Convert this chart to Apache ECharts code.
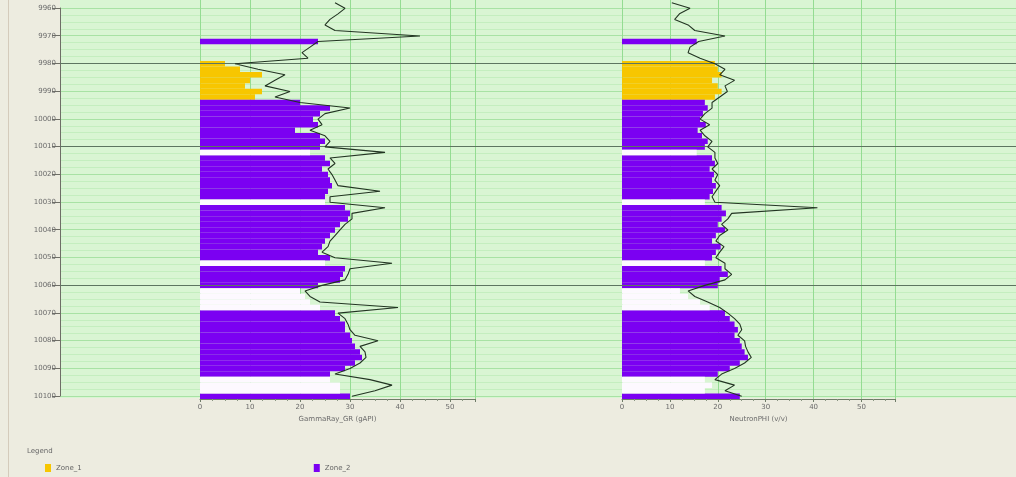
<!DOCTYPE html>
<html>
<head>
<meta charset="utf-8">
<script src="https://cdn.jsdelivr.net/npm/echarts@6/dist/echarts.min.js"></script>
<style>
  html, body { margin: 0; padding: 0; background: #edece0; }
  #chart { width: 1016px; height: 477px; }
</style>
</head>
<body>
<div id="chart"></div>
<script>
// Sample depths (2 ft spacing), top to bottom
const depths = [9958, 9960, 9962, 9964, 9966, 9968, 9970, 9972, 9974, 9976,
  9978, 9980, 9982, 9984, 9986, 9988, 9990, 9992, 9994, 9996,
  9998, 10000, 10002, 10004, 10006, 10008, 10010, 10012, 10014, 10016,
  10018, 10020, 10022, 10024, 10026, 10028, 10030, 10032, 10034, 10036,
  10038, 10040, 10042, 10044, 10046, 10048, 10050, 10052, 10054, 10056,
  10058, 10060, 10062, 10064, 10066, 10068, 10070, 10072, 10074, 10076,
  10078, 10080, 10082, 10084, 10086, 10088, 10090, 10092, 10094, 10096,
  10098, 10100];

// Zone code per sample: 0 = none, 1 = Zone_1, 2 = Zone_2, 3 = unassigned (white)
const zones = [0, 0, 0, 0, 0, 0, 0, 2, 0, 0, 0,
  1, 1, 1, 1, 1, 1, 1,
  2, 2, 2, 2, 2, 2, 2, 2, 2,
  3,
  2, 2, 2, 2, 2, 2, 2, 2,
  3,
  2, 2, 2, 2, 2, 2, 2, 2, 2, 2,
  3,
  2, 2, 2, 2,
  3, 3, 3, 3,
  2, 2, 2, 2, 2, 2, 2, 2, 2, 2, 2, 2,
  3, 3, 3,
  2];

// Track 1: filled value and log curve
const grFill = [null, null, null, null, null, null, null, 23.6, null, null, null,
  5, 8, 12.4, 10, 9, 12.4, 11,
  20, 26, 24, 22.6, 23.6, 19, 24, 25, 24,
  22,
  25, 26, 24.4, 25.6, 26, 26.4, 25.6, 25,
  25,
  29, 30, 29.6, 28, 27, 26, 25, 24.4, 23.6, 26,
  25,
  29, 28.6, 28, 23.6,
  20, 21, 22, 24,
  27, 28, 29, 29, 30, 30.4, 31, 32, 32.4, 31, 29, 26,
  26, 28, 28,
  30];
const grCurve = [27, 29, 27.6, 26, 25, 27, 44, 23.6, 22, 20.4, 21.6,
  7, 11.6, 17, 15, 13, 18, 15,
  20, 30, 25, 23.6, 24.4, 22, 25, 26, 25,
  37,
  26, 27, 25.6, 26.4, 27, 27.6, 36, 26,
  26,
  37, 30.4, 30.4, 29, 28, 27, 26, 25.6, 24.4, 27,
  38.4,
  30, 29.6, 29, 24.4,
  21, 22, 24, 39.6,
  27.6, 29, 29.6, 30, 31, 35.6, 32, 33, 33.2, 32, 30, 27,
  34, 38.4, 35,
  30.4];

// Track 2: filled value and log curve
const npFill = [null, null, null, null, null, null, null, 15.6, null, null, null,
  19.4, 20, 20.8, 18.8, 20, 20.8, 19.4,
  17.3, 17.9, 16.9, 16.3, 17.5, 15.8, 16.7, 17.9, 17.3,
  15.6,
  18.8, 19.4, 18.3, 19.2, 18.8, 19.6, 19, 18.3,
  17.3,
  20.8, 21.7, 20.8, 20, 21.5, 19.6, 18.8, 20.6, 19.6, 18.8,
  17.3,
  20.8, 22.1, 20.4, 20,
  12.1, 13.8, 16.3, 18.3,
  21.5, 22.5, 23.5, 24.2, 23.5, 24.6, 25, 25.6, 26.3, 24.6, 22.5, 20,
  17.3, 18.8, 17.3,
  24.6];
const npCurve = [10.4, 14.2, 12, 11, 13.8, 15.2, 21.5, 16, 14.2, 13.8, 16.3,
  19.4, 21.5, 20.4, 23.5, 21.5, 22, 20.4,
  18.8, 18.8, 17.3, 16.3, 18.3, 16.3, 17.3, 18.8, 17.9,
  19.4,
  19.4, 20, 18.8, 20, 19.4, 20.4, 19.6, 18.8,
  19.4,
  40.8, 22.9, 22.1, 20.8, 22.1, 20.4, 19.6, 21.3, 20.4, 19.6,
  21.5,
  21.5, 22.9, 21.5, 17.3,
  13.8, 15.2, 17.9, 20.4,
  22.1, 23.5, 24.6, 25, 24.2, 25.6, 25.8, 26.3, 27, 25.6, 23.5, 20.8,
  19.4, 23.5, 21.5,
  25];

// Depth axis and formation tops
const depthMin = 9960, depthMax = 10100, depthStep = 10;
const formationTops = [9980, 10010, 10060];

const zoneNames = ['Zone_1', 'Zone_2'];
const trackTitles = ['GammaRay_GR (gAPI)', 'NeutronPHI (v/v)'];
const trackMax = [55, 57];

const COLORS = { zone1: '#f7c600', zone2: '#7b00f2', blank: '#fdf9ff', curve: '#223422' };
const FONT = 'DejaVu Sans';

function pick(fill, code) {
  return fill.map((v, i) => (zones[i] === code ? v : null));
}

function trackSeries(axisIdx, fill, curve) {
  const common = {
    type: 'bar', xAxisIndex: axisIdx, yAxisIndex: axisIdx,
    barGap: '-100%', barCategoryGap: '0%', barWidth: '100%',
    silent: true, animation: false
  };
  return [
    Object.assign({ name: zoneNames[0], data: pick(fill, 1), itemStyle: { color: COLORS.zone1 } }, common),
    Object.assign({ name: zoneNames[1], data: pick(fill, 2), itemStyle: { color: COLORS.zone2 } }, common),
    Object.assign({ name: 'blank', data: pick(fill, 3), itemStyle: { color: COLORS.blank } }, common),
    {
      type: 'line', xAxisIndex: axisIdx, yAxisIndex: axisIdx, data: curve,
      symbol: 'none', lineStyle: { color: COLORS.curve, width: 1.1 }, z: 5,
      animation: false, silent: true
    }
  ];
}

function trackXAxis(gridIndex, max, title) {
  return {
    type: 'value', gridIndex: gridIndex, min: 0, max: max, interval: 10,
    position: 'bottom',
    name: title, nameLocation: 'middle', nameGap: 16,
    nameTextStyle: { fontSize: 7, color: '#6a6a6a', fontFamily: FONT },
    axisLine: { show: true, lineStyle: { color: '#6f7c68', width: 1 } },
    axisTick: { show: true, length: 3, lineStyle: { color: '#6f7c68' } },
    minorTick: { show: true, splitNumber: 4, length: 2, lineStyle: { color: '#8a9682' } },
    axisLabel: { fontSize: 7, color: '#6a6a6a', margin: 5, fontFamily: FONT, showMaxLabel: false },
    splitLine: { show: true, lineStyle: { color: '#94dc92', width: 1 } }
  };
}

function trackYAxis(gridIndex) {
  return {
    type: 'category', gridIndex: gridIndex, data: depths, inverse: true,
    boundaryGap: true, show: false
  };
}

const chart = echarts.init(document.getElementById('chart'), null, { renderer: 'canvas' });

chart.setOption({
  backgroundColor: '#edece0',
  animation: false,
  textStyle: { fontFamily: FONT },
  grid: [
    { left: 60, right: 0, top: 0, height: 398, show: true, backgroundColor: '#d9f5d3', borderWidth: 0 },
    { left: 60, right: 0, top: 8, height: 388 },
    { left: 200, width: 275, top: 0, height: 399 },
    { left: 622, width: 273, top: 0, height: 399 }
  ],
  xAxis: [
    { type: 'value', gridIndex: 0, show: false },
    { type: 'value', gridIndex: 1, min: 0, max: 1, show: false },
    trackXAxis(2, trackMax[0], trackTitles[0]),
    trackXAxis(3, trackMax[1], trackTitles[1])
  ],
  yAxis: [
    { type: 'value', gridIndex: 0, show: false },
    {
      type: 'value', gridIndex: 1, inverse: true,
      min: depthMin, max: depthMax, interval: depthStep,
      axisLine: { show: true, lineStyle: { color: '#6e6e66', width: 1 } },
      axisTick: { show: true, length: 8, lineStyle: { color: '#6e6e66' } },
      axisLabel: { fontSize: 7, color: '#6a6a6a', margin: 4, fontFamily: FONT, formatter: v => String(v) },
      splitLine: { show: true, lineStyle: { color: '#a8e2a4', width: 1 } },
      minorTick: { show: false, splitNumber: 4 },
      minorSplitLine: { show: true, lineStyle: { color: '#c4eebf', width: 1 } }
    },
    trackYAxis(2),
    trackYAxis(3)
  ],
  legend: {
    data: zoneNames,
    left: 40, top: 459,
    itemGap: 232, itemWidth: 6, itemHeight: 8,
    icon: 'rect',
    textStyle: { fontSize: 7, color: '#666', fontFamily: FONT }
  },
  graphic: [
    { type: 'text', left: 27, top: 448, style: { text: 'Legend', fontSize: 7, fill: '#6a6a6a', fontFamily: FONT } },
    { type: 'rect', left: 8, top: 0, shape: { width: 1, height: 477 }, style: { fill: '#d4cbbb' } }
  ],
  series: [
    {
      type: 'line', xAxisIndex: 1, yAxisIndex: 1, data: [], silent: true,
      markLine: {
        symbol: 'none', silent: true, animation: false,
        label: { show: false },
        lineStyle: { color: '#5d7560', width: 1, type: 'solid' },
        data: formationTops.map(d => ({ yAxis: d }))
      }
    }
  ].concat(trackSeries(2, grFill, grCurve), trackSeries(3, npFill, npCurve))
});
</script>
</body>
</html>
